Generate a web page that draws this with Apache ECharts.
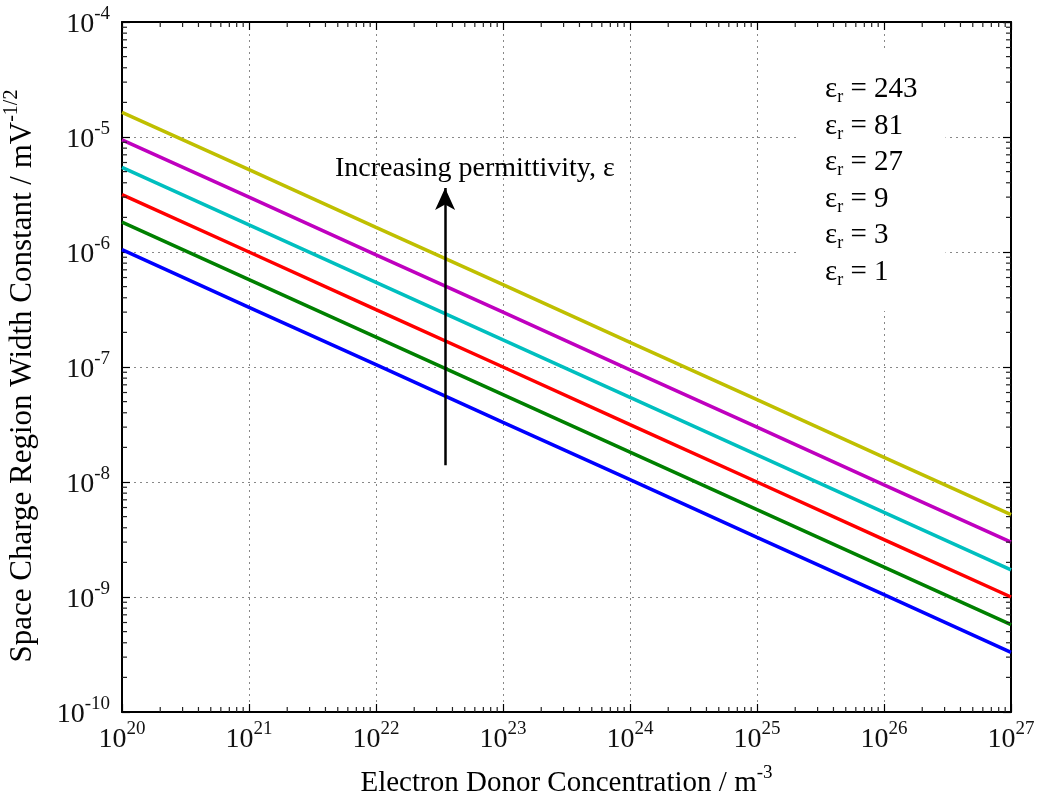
<!DOCTYPE html>
<html>
<head>
<meta charset="utf-8">
<script src="https://cdn.jsdelivr.net/npm/echarts@6/dist/echarts.min.js"></script>
<style>html,body{margin:0;padding:0;background:#fff}#c{width:1041px;height:807px}</style>
</head>
<body>
<div id="c"></div>
<script>
// Electron donor concentration (m^-3) at each decade
var xValues = [1e20, 1e21, 1e22, 1e23, 1e24, 1e25, 1e26, 1e27];
// relative permittivities
var epsValues = [1, 3, 9, 27, 81, 243];
// space charge region width constant (m V^-1/2)
var eps1   = [1.05e-6, 3.3e-7, 1.05e-7, 3.3e-8, 1.05e-8, 3.3e-9, 1.05e-9, 3.3e-10];
var eps3   = [1.82e-6, 5.75e-7, 1.82e-7, 5.75e-8, 1.82e-8, 5.75e-9, 1.82e-9, 5.75e-10];
var eps9   = [3.15e-6, 1.0e-6, 3.15e-7, 1.0e-7, 3.15e-8, 1.0e-8, 3.15e-9, 1.0e-9];
var eps27  = [5.45e-6, 1.72e-6, 5.45e-7, 1.72e-7, 5.45e-8, 1.72e-8, 5.45e-9, 1.72e-9];
var eps81  = [9.45e-6, 3.0e-6, 9.45e-7, 3.0e-7, 9.45e-8, 3.0e-8, 9.45e-9, 3.0e-9];
var eps243 = [1.64e-5, 5.2e-6, 1.64e-6, 5.2e-7, 1.64e-7, 5.2e-8, 1.64e-8, 5.2e-9];
var seriesValues = [eps1, eps3, eps9, eps27, eps81, eps243];
var colors = ['#0000ff', '#008000', '#ff0000', '#00bfbf', '#bf00bf', '#bfbf00'];
// axis ranges / tick exponents
var xExponents = [20, 21, 22, 23, 24, 25, 26, 27];
var yExponents = [-10, -9, -8, -7, -6, -5, -4];
// annotation
var arrowStart = [3.5e22, 1.4e-8];
var arrowEnd = [3.5e22, 3.6e-6];
var annotationPos = [6e22, 5.3e-6];
var annotationText = 'Increasing permittivity, ε';

var FONT = '"Liberation Serif", "Times New Roman", serif';
var xMin = Math.pow(10, xExponents[0]), xMax = Math.pow(10, xExponents[xExponents.length - 1]);
var yMin = Math.pow(10, yExponents[0]), yMax = Math.pow(10, yExponents[yExponents.length - 1]);

function minorList(exps) {
  var out = [];
  for (var i = 0; i < exps.length - 1; i++) {
    for (var m = 2; m <= 9; m++) out.push(m * Math.pow(10, exps[i]));
  }
  return out;
}
var xMinor = minorList(xExponents);
var yMinor = minorList(yExponents);

function powLabel(v) {
  var e = Math.round(Math.log10(v));
  return '{b|10}{s|' + e + '}';
}
var tickRich = {
  b: {fontFamily: FONT, fontSize: 28, color: '#111', lineHeight: 34, verticalAlign: 'bottom'},
  s: {fontFamily: FONT, fontSize: 19, color: '#111', lineHeight: 34, verticalAlign: 'top'}
};

function nameOf(v) { return 'εr = ' + v; }

var series = seriesValues.map(function (vals, i) {
  return {
    type: 'line',
    name: nameOf(epsValues[i]),
    data: vals.map(function (y, j) { return [xValues[j], y]; }),
    showSymbol: false,
    symbol: 'none',
    lineStyle: {color: colors[i], width: 3.5},
    itemStyle: {color: colors[i]},
    z: 3,
    animation: false
  };
});

// arrow + annotation text
series.push({
  type: 'line',
  data: [],
  animation: false,
  markLine: {
    silent: true,
    animation: false,
    symbol: ['none', 'arrow'],
    symbolSize: [15, 22],
    label: {show: false},
    lineStyle: {color: '#000', width: 2.5, type: 'solid'},
    data: [[{coord: arrowStart}, {coord: arrowEnd}]]
  },
  markPoint: {
    silent: true,
    animation: false,
    symbol: 'circle',
    symbolSize: 0,
    label: {show: true, position: 'inside', formatter: annotationText,
            fontFamily: FONT, fontSize: 28, color: '#000'},
    data: [{coord: annotationPos}]
  }
});

// minor ticks (log spaced) on all four sides
series.push({
  type: 'custom',
  data: xMinor.map(function (v) { return [v, yMin]; }),
  animation: false, silent: true, z: 5,
  renderItem: function (params, api) {
    var p = api.coord([api.value(0), yMin]);
    var cs = params.coordSys;
    return {type: 'group', children: [
      {type: 'line', shape: {x1: p[0], y1: cs.y + cs.height, x2: p[0], y2: cs.y + cs.height - 5}, style: {stroke: '#222', lineWidth: 1.2}},
      {type: 'line', shape: {x1: p[0], y1: cs.y, x2: p[0], y2: cs.y + 5}, style: {stroke: '#222', lineWidth: 1.2}}
    ]};
  }
});
series.push({
  type: 'custom',
  data: yMinor.map(function (v) { return [xMin, v]; }),
  animation: false, silent: true, z: 5,
  renderItem: function (params, api) {
    var p = api.coord([xMin, api.value(1)]);
    var cs = params.coordSys;
    return {type: 'group', children: [
      {type: 'line', shape: {x1: cs.x, y1: p[1], x2: cs.x + 5, y2: p[1]}, style: {stroke: '#222', lineWidth: 1.2}},
      {type: 'line', shape: {x1: cs.x + cs.width, y1: p[1], x2: cs.x + cs.width - 5, y2: p[1]}, style: {stroke: '#222', lineWidth: 1.2}}
    ]};
  }
});

var axisLineStyle = {show: true, lineStyle: {color: '#000', width: 2}};
var gridLine = {show: true, lineStyle: {color: '#888', width: 1, type: [2, 4]}};

var option = {
  backgroundColor: '#fff',
  animation: false,
  grid: {left: 122, right: 30, top: 22, bottom: 95, containLabel: false, outerBoundsMode: 'none'},
  legend: {
    data: epsValues.slice().reverse().map(nameOf),
    orient: 'vertical',
    left: 800, top: 50,
    padding: [25, 28, 22, 20],
    backgroundColor: '#fff',
    itemWidth: 0, itemHeight: 0,
    itemGap: 5,
    selectedMode: false,
    icon: 'rect',
    z: 10,
    formatter: function (name) {
      var v = name.split('= ')[1];
      return '{e|ε}{r|r}{e| = ' + v + '}';
    },
    textStyle: {
      fontFamily: FONT, color: '#000',
      rich: {
        e: {fontFamily: FONT, fontSize: 29, color: '#000', lineHeight: 34, verticalAlign: 'middle'},
        r: {fontFamily: FONT, fontSize: 18, color: '#000', lineHeight: 20, verticalAlign: 'bottom'}
      }
    }
  },
  xAxis: [{
    type: 'log', logBase: 10, min: xMin, max: xMax,
    position: 'bottom',
    axisLine: axisLineStyle,
    axisTick: {show: true, inside: true, length: 8, lineStyle: {color: '#000', width: 1.2}},
    splitLine: gridLine,
    axisLabel: {margin: 8, formatter: powLabel, rich: tickRich},
    name: '{n|Electron Donor Concentration / m}{s|-3}',
    nameLocation: 'middle', nameGap: 52,
    nameTextStyle: {
      rich: {
        n: {fontFamily: FONT, fontSize: 29, color: '#000', lineHeight: 34, verticalAlign: 'bottom'},
        s: {fontFamily: FONT, fontSize: 19, color: '#000', lineHeight: 34, verticalAlign: 'top'}
      }
    }
  }, {
    type: 'log', logBase: 10, min: xMin, max: xMax,
    position: 'top',
    axisLine: axisLineStyle,
    axisTick: {show: true, inside: true, length: 8, lineStyle: {color: '#000', width: 1.2}},
    splitLine: {show: false},
    axisLabel: {show: false}
  }],
  yAxis: [{
    type: 'log', logBase: 10, min: yMin, max: yMax,
    position: 'left',
    axisLine: axisLineStyle,
    axisTick: {show: true, inside: true, length: 8, lineStyle: {color: '#000', width: 1.2}},
    splitLine: gridLine,
    axisLabel: {margin: 12, formatter: powLabel, rich: tickRich},
    name: '{n|Space Charge Region Width Constant / mV}{s|-1/2}',
    nameLocation: 'middle', nameGap: 84, nameRotate: 90,
    nameTextStyle: {
      padding: [0, 18, 0, 0],
      rich: {
        n: {fontFamily: FONT, fontSize: 31, color: '#000', lineHeight: 36, verticalAlign: 'bottom'},
        s: {fontFamily: FONT, fontSize: 20, color: '#000', lineHeight: 36, verticalAlign: 'top'}
      }
    }
  }, {
    type: 'log', logBase: 10, min: yMin, max: yMax,
    position: 'right',
    axisLine: axisLineStyle,
    axisTick: {show: true, inside: true, length: 8, lineStyle: {color: '#000', width: 1.2}},
    splitLine: {show: false},
    axisLabel: {show: false}
  }],
  series: series
};

var chart = echarts.init(document.getElementById('c'), null, {renderer: 'canvas'});
chart.setOption(option);
</script>
</body>
</html>
